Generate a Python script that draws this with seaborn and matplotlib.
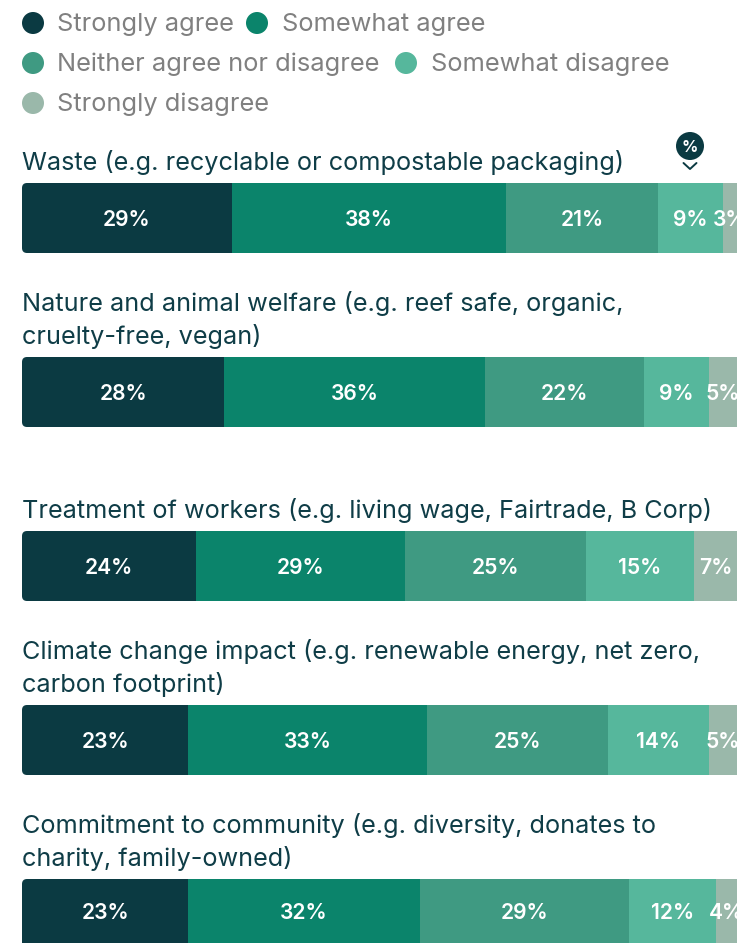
import matplotlib
matplotlib.use("Agg")
import matplotlib.pyplot as plt
from matplotlib.patches import Circle, FancyBboxPatch
from matplotlib.transforms import IdentityTransform
import seaborn as sns
import pandas as pd

rows = [
    "Waste (e.g. recyclable or compostable packaging)",
    "Nature and animal welfare (e.g. reef safe, organic,\ncruelty-free, vegan)",
    "Treatment of workers (e.g. living wage, Fairtrade, B Corp)",
    "Climate change impact (e.g. renewable energy, net zero,\ncarbon footprint)",
    "Commitment to community (e.g. diversity, donates to\ncharity, family-owned)",
]
series = ["Strongly agree", "Somewhat agree", "Neither agree nor disagree",
          "Somewhat disagree", "Strongly disagree"]
strongly_agree = [29, 28, 24, 23, 23]
somewhat_agree = [38, 36, 29, 33, 32]
neither = [21, 22, 25, 25, 29]
somewhat_disagree = [9, 9, 15, 14, 12]
strongly_disagree = [3, 5, 7, 5, 4]
values = [strongly_agree, somewhat_agree, neither, somewhat_disagree, strongly_disagree]
colors = ["#0b3a42", "#0b846b", "#3f9a82", "#56b79c", "#9ab8aa"]

W, H = 737, 943
sns.set_theme(style="white")
FONT = "Inter"
plt.rcParams["font.family"] = [FONT, "DejaVu Sans"]

fig = plt.figure(figsize=(W / 100, H / 100), dpi=100, facecolor="white")
ax = fig.add_axes([0, 0, 1, 1])

PX_PER_PCT = 7.23
ROW_PITCH = 174
BAR_PX = 70
FIRST_CENTER = 218
X0 = 22

cum = [0] * len(rows)
for name, vals, col in zip(series, values, colors):
    df = pd.DataFrame({"row": rows, "pct": vals})
    before = len(ax.containers)
    sns.barplot(data=df, x="pct", y="row", left=cum, color=col, saturation=1,
                width=BAR_PX / ROW_PITCH, orient="h", linewidth=0, ax=ax)
    cont = ax.containers[before]
    labels = ax.bar_label(cont, labels=[f"{v}%" for v in vals], label_type="center",
                          color="white", fontsize=15.2, fontweight="semibold",
                          family=[FONT, "DejaVu Sans"])
    for t in labels:
        t.set_va("center_baseline")
    cum = [c + v for c, v in zip(cum, vals)]

ax.set_xlim(-X0 / PX_PER_PCT, (W - X0) / PX_PER_PCT)
ax.set_ylim((H - FIRST_CENTER) / ROW_PITCH, -FIRST_CENTER / ROW_PITCH)
ax.axis("off")

# Rounded left corners of the first segment
fig.canvas.draw()
for bar in ax.containers[0]:
    e = bar.get_window_extent()
    clip = FancyBboxPatch((e.x0, e.y0), e.width + 20, e.height,
                          boxstyle="round,pad=0,rounding_size=5",
                          transform=IdentityTransform())
    bar.set_clip_path(clip)

for i, title in enumerate(rows):
    ax.annotate(title, xy=(0, i - BAR_PX / ROW_PITCH / 2), xycoords="data",
                xytext=(0, 13), textcoords="offset pixels", ha="left", va="baseline",
                color="#0f3d47", fontsize=18.2, linespacing=1.38)

# Overlay in pixel coordinates for the flowing legend and the icon
ov = fig.add_axes([0, 0, 1, 1], facecolor="none")
ov.set_xlim(0, W)
ov.set_ylim(H, 0)
ov.axis("off")
legend_pos = [(33, 23, 57), (257, 23, 282), (33, 63, 57), (406, 63, 431), (33, 103, 57)]
for (cx, cy, tx), name, col in zip(legend_pos, series, colors):
    ov.add_patch(Circle((cx, cy), 11, color=col, lw=0))
    ov.text(tx, cy - 1, name, color="#808080", fontsize=18.3, va="center_baseline", ha="left")

ov.add_patch(Circle((690, 146), 14, color="#0b3a42", lw=0))
ov.text(690, 146, "%", color="white", fontsize=11.5, fontweight="bold",
        ha="center", va="center_baseline")
ov.plot([683.5, 690, 696.5], [163, 169, 163], color="#0b3a42", lw=1.4, solid_capstyle="round")

fig.savefig("out.png", dpi=100)
